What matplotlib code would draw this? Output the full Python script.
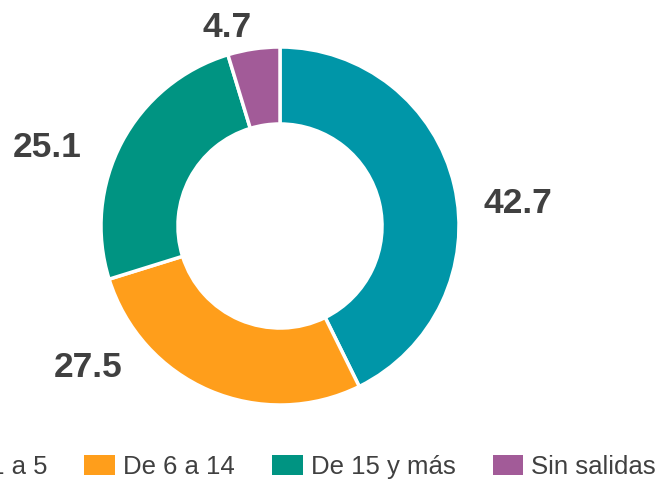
import matplotlib.pyplot as plt
from matplotlib.patches import Patch

categories = ["De 1 a 5", "De 6 a 14", "De 15 y más", "Sin salidas"]
values = [42.7, 27.5, 25.1, 4.7]
colors = ["#0096A8", "#FF9E1B", "#009482", "#A25B98"]

plt.rcParams['font.family'] = ['Liberation Sans', 'DejaVu Sans']

fig = plt.figure(figsize=(6.61, 4.82), dpi=100)
# axes placed so the donut is centred near (280, 226) px with radius ~179 px
W, H = 661, 482
cx, cy, r = 280, 226, 179
ax = fig.add_axes([(cx - r) / W, 1 - (cy + r) / H, 2 * r / W, 2 * r / H])

wedges, _ = ax.pie(values, colors=colors, startangle=90, counterclock=False,
                   radius=1.0, wedgeprops=dict(width=0.43, edgecolor='white', linewidth=2.5))
ax.set_xlim(-1, 1)
ax.set_ylim(-1, 1)
ax.set_aspect('equal')
ax.axis('off')

# value labels: (centre x, baseline y) in pixels
label_pos = [(518, 213), (88, 377), (47, 157), (227, 37)]
for v, (px, py) in zip(values, label_pos):
    fig.text(px / W, 1 - py / H, f"{v:.1f}", ha='center', va='baseline',
             fontsize=25.5, fontweight='bold', color='#404040')

handles = [Patch(facecolor=c, edgecolor='none') for c in colors]
fig.legend(handles, categories, loc='center right', bbox_to_anchor=(656 / W, 1 - 467 / H),
           ncol=4, frameon=False, fontsize=18.5, handlelength=1.2, handleheight=0.78,
           handletextpad=0.31, columnspacing=1.44, labelcolor='#404040', borderaxespad=0,
           borderpad=0)

fig.savefig("out.png", dpi=100)
